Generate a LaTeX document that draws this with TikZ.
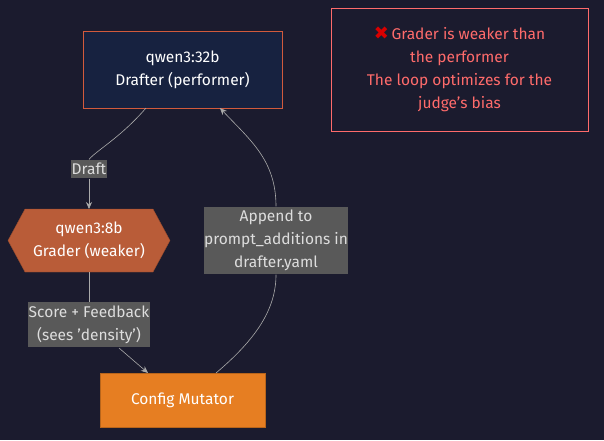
\documentclass[tikz,border=0pt]{standalone}
\usepackage{fontspec}
\setmainfont{Fira Sans}
\newfontfamily\symfont{DejaVu Sans}
\usetikzlibrary{arrows.meta}
\definecolor{bg}{HTML}{1B1B2E}
\definecolor{navy}{HTML}{172240}
\definecolor{rust}{HTML}{B95C38}
\definecolor{orng}{HTML}{E67E22}
\definecolor{lblbg}{HTML}{595959}
\definecolor{lbltx}{HTML}{DDDDDD}
\definecolor{redtx}{HTML}{FF6B6B}
\definecolor{edge}{HTML}{AAAAAA}
\newcommand{\sq}{\char39\relax}
\tikzset{
 x=1pt,y=-1pt,
 every node/.style={font=\fontsize{15.5}{23}\selectfont, align=center, inner sep=0pt},
 lbl/.style={fill=lblbg, text=lbltx, inner xsep=0.5pt, inner ysep=3.5pt},
 conn/.style={draw=edge, line width=0.6pt, -{Stealth[length=7pt,width=6pt]}},
 plain/.style={draw=edge, line width=0.6pt},
}
\begin{document}
\begin{tikzpicture}
\useasboundingbox[fill=bg] (0,0) rectangle (604,440);
\node[draw={rgb,255:red,210;green,90;blue,60}, fill=navy, text=white, minimum width=199pt, minimum height=77pt] (drafter) at (182.5,69.5) {qwen3:32b\\Drafter (performer)};
\node[draw=redtx, line width=0.7pt, minimum width=257pt, minimum height=123pt] (note) at (459.5,69.5) {};
\node[text=redtx] (notetxt) at (459.5,69) {{\symfont\fontsize{18}{18}\selectfont\color{red!85!black}✖}\,Grader is weaker than\\the performer\\The loop optimizes for the\\judge\sq s bias};
\path[fill=rust, draw=rust!80!black] (8,240.5) -- (25,209) -- (153,209) -- (170,240.5) -- (153,272) -- (25,272) -- cycle;
\node[text=white] (grader) at (89,240.5) {qwen3:8b\\Grader (weaker)};
\coordinate (gtop) at (89,209);
\coordinate (gbot) at (89,272);
\node[fill=orng, draw=orng!80!black, text=white, minimum width=165pt, minimum height=54pt] (mut) at (182.5,400) {Config Mutator};
\node[lbl] (draft) at (89,169) {Draft};
\node[lbl] (score) at (89,324.5) {Score + Feedback\\(sees \sq density\sq)};
\node[lbl] (append) at (276,240.5) {Append to\\prompt\_additions in\\drafter.yaml};
\coordinate (dbot) at (146,108);
\coordinate (dret) at (220,108);
\draw[plain] (dbot) .. controls (120,138) and (97,150) .. (draft.north);
\draw[conn] (draft.south) -- (gtop);
\draw[plain] (gbot) -- (score.north);
\draw[conn] (119,348) -- (148,373);
\draw[plain] (216,373) .. controls (255,340) and (276,310) .. (append.south);
\draw[conn] (append.north) .. controls (276,160) and (250,140) .. (dret);
\end{tikzpicture}
\end{document}
